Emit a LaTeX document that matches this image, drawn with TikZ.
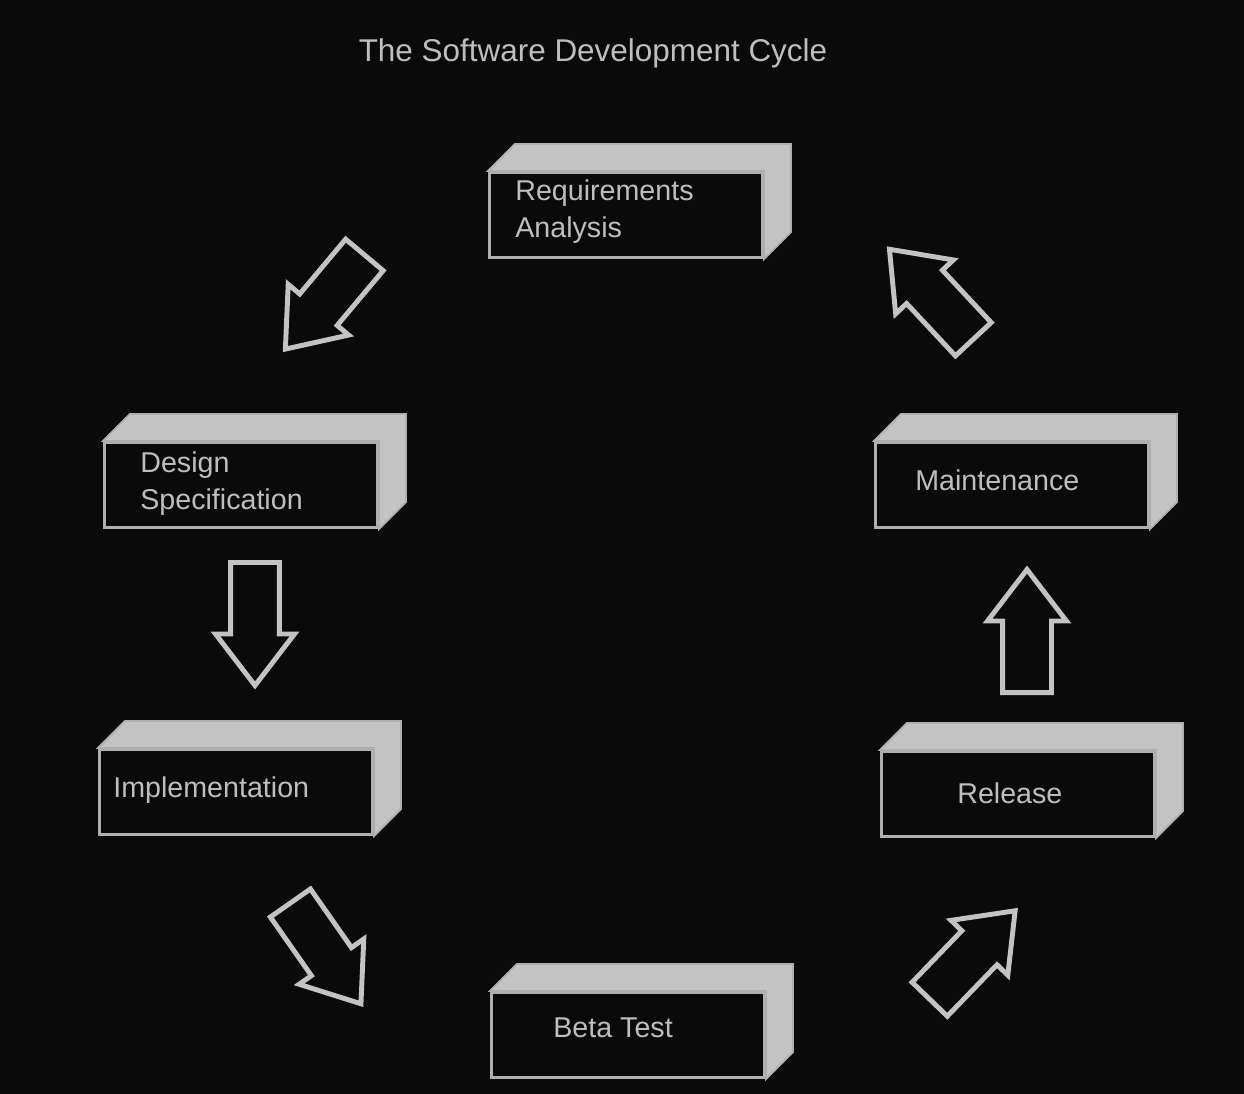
\documentclass[tikz,border=0pt]{standalone}
\usepackage{fontspec}
\setmainfont{Liberation Sans}
\usetikzlibrary{shapes.arrows}
\definecolor{bg}{RGB}{10,10,10}
\definecolor{facegray}{RGB}{195,195,195}
\definecolor{edgegray}{RGB}{175,175,175}
\definecolor{textgray}{RGB}{190,190,190}

\begin{document}
\begin{tikzpicture}[x=0.02cm, y=-0.02cm,
    stage/.style={draw=edgegray, line width=1.8pt, fill=bg, minimum width=5.46cm, minimum height=1.7cm, inner sep=0pt},
    side/.style={fill=facegray, draw=edgegray, line width=1pt},
    lbl/.style={text=textgray, font=\fontsize{16.3}{21}\selectfont, align=left, anchor=west, inner sep=0pt},
    flow/.style={single arrow, draw=facegray, line width=2.8pt, fill=bg, anchor=tail, minimum height=2.46cm, inner xsep=0pt, inner ysep=0.44cm, single arrow head extend=0.3cm, single arrow tip angle=75}]
        \fill[bg] (0,0) rectangle (1244,1094);
        \useasboundingbox (0,0) rectangle (1244,1094);

        \node[text=textgray, font=\fontsize{17.9}{21}\selectfont] (title) at (593,53) {The Software Development Cycle};

        % front faces
        \node[stage] (req) at (626,215) {};
        \node[stage] (des) at (241,485) {};
        \node[stage] (mai) at (1012,485) {};
        \node[stage] (imp) at (236,792) {};
        \node[stage] (rel) at (1018,794) {};
        \node[stage] (bet) at (628,1035) {};

        % top and right faces
        \foreach \b in {req,des,mai,imp,rel,bet}
            \filldraw[side] (\b.north west) -- ++(27,-27) -- ([shift={(27,-27)}]\b.north east)
                -- ([shift={(27,-27)}]\b.south east) -- (\b.south east) -- (\b.north east) -- cycle;

        \node[lbl] (reqt) at (515,212) {Requirements\\Analysis};
        \node[lbl] (dest) at (140,484) {Design\\Specification};
        \node[lbl] (mait) at (915,480) {Maintenance};
        \node[lbl] (impt) at (113,790) {Implementation};
        \node[lbl] (relt) at (957,793) {Release};
        \node[lbl] (bett) at (553,1028) {Beta Test};

        % block arrows, placed by their tails
        \node[flow, rotate=230] (a1) at (366,253) {};
        \node[flow, rotate=-90] (a2) at (255,560) {};
        \node[flow, rotate=-55] (a3) at (289,901) {};
        \node[flow, rotate=46] (a4) at (928,1001) {};
        \node[flow, rotate=90] (a5) at (1027,695) {};
        \node[flow, rotate=133] (a6) at (975,341) {};
    \end{tikzpicture}
\end{document}
